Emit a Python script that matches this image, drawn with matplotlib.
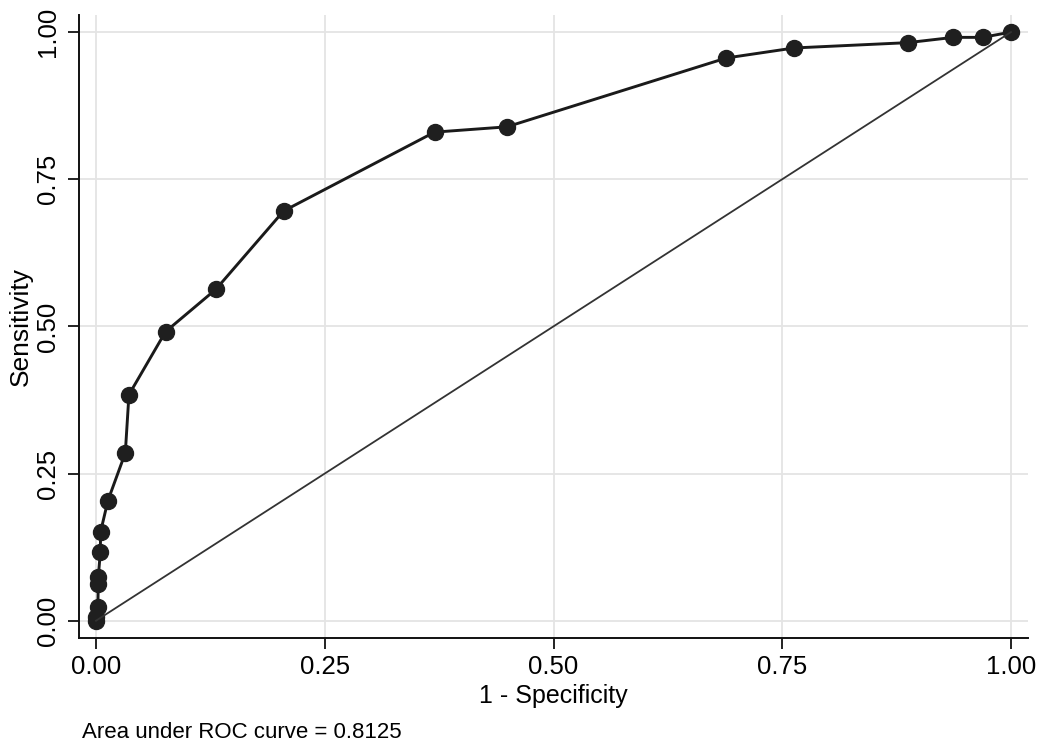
import matplotlib
matplotlib.use("Agg")
import matplotlib.pyplot as plt

plt.rcParams['font.family'] = ['Liberation Sans', 'DejaVu Sans']

# ROC curve points (1 - specificity, sensitivity)
fpr = [0.0, 0.0, 0.002, 0.0025, 0.0025, 0.0047, 0.005, 0.013, 0.032, 0.036,
       0.076, 0.131, 0.205, 0.370, 0.449, 0.689, 0.763, 0.887, 0.937, 0.969, 1.0]
tpr = [0.0, 0.007, 0.024, 0.063, 0.075, 0.116, 0.151, 0.204, 0.285, 0.384,
       0.491, 0.563, 0.696, 0.830, 0.839, 0.956, 0.973, 0.982, 0.991, 0.991, 1.0]
ref_line = [0.0, 1.0]
ticks = [0.0, 0.25, 0.5, 0.75, 1.0]
tick_labels = ["0.00", "0.25", "0.50", "0.75", "1.00"]
auc_note = "Area under ROC curve = 0.8125"

fig = plt.figure(figsize=(10.44, 7.5), dpi=100)
ax = fig.add_axes([79/1044, 1 - 638/750, (1028 - 79)/1044, (638 - 15)/750])

ax.plot(fpr, tpr, color="#1a1a1a", linewidth=2.1, marker="o", markersize=11.5,
        markerfacecolor="#1f1f1f", markeredgecolor="#1f1f1f", zorder=3)
ax.plot(ref_line, ref_line, color="#333333", linewidth=1.3, zorder=4)

ax.set_xlim(-0.0186, 1.0186)
ax.set_ylim(-0.0294, 1.029)
ax.set_xticks(ticks)
ax.set_xticklabels(tick_labels)
ax.set_yticks(ticks)
ax.set_yticklabels(tick_labels, rotation=90, va="center")
ax.tick_params(axis="both", direction="out", length=8, width=1.3,
               labelsize=18.5, color="#111111", pad=4)
ax.tick_params(axis="y", pad=6)
ax.grid(True, color="#e4e4e4", linewidth=1.3, zorder=0)
ax.set_axisbelow(True)

for s in ["top", "right"]:
    ax.spines[s].set_visible(False)
for s in ["left", "bottom"]:
    ax.spines[s].set_linewidth(1.4)
    ax.spines[s].set_color("#111111")

ax.set_xlabel("1 - Specificity", fontsize=18, labelpad=4)
ax.set_ylabel("Sensitivity", fontsize=19, labelpad=2)

fig.text(82/1044, 1 - 733/750, auc_note, fontsize=16, va="center", ha="left")

fig.savefig("out.png", dpi=100)
